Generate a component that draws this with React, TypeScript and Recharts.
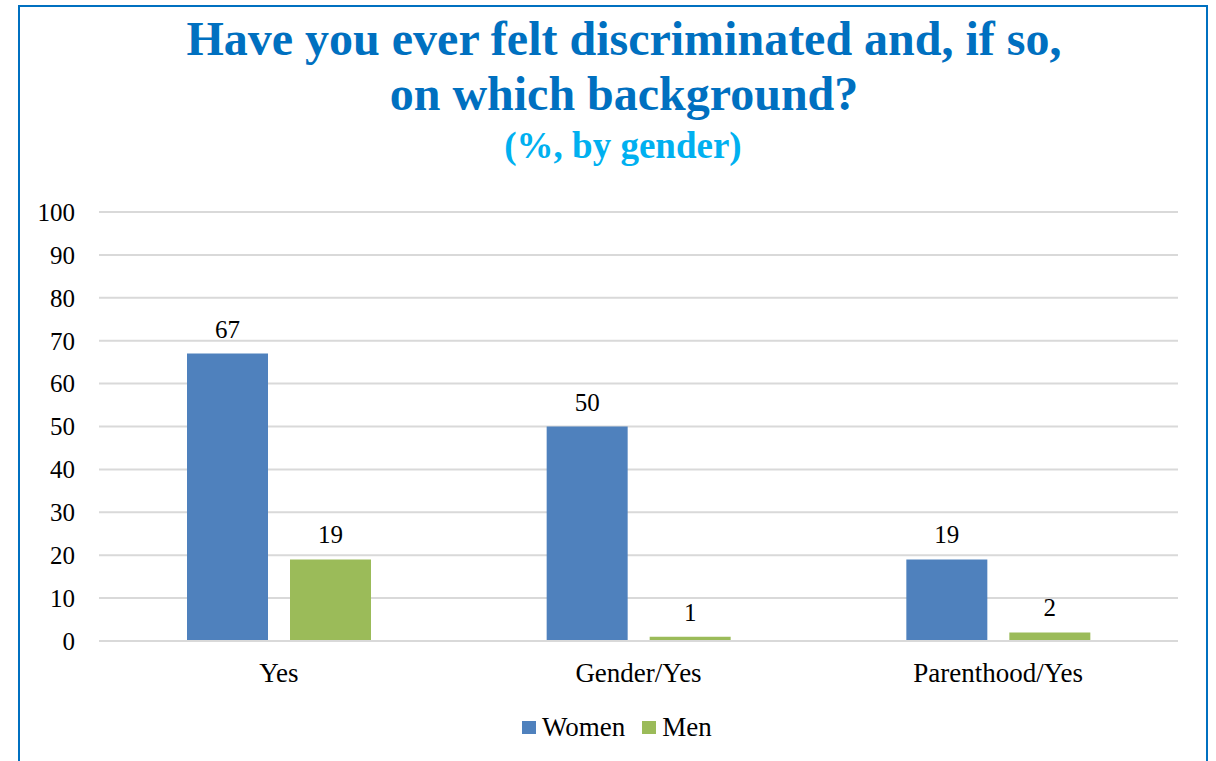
import { BarChart, Bar, XAxis, YAxis, CartesianGrid, LabelList } from 'recharts'

const categories = ['Yes', 'Gender/Yes', 'Parenthood/Yes']
const women = [67, 50, 19]
const men = [19, 1, 2]
const yTicks = [0, 10, 20, 30, 40, 50, 60, 70, 80, 90, 100]

const data = categories.map((name, i) => ({ name, Women: women[i], Men: men[i] }))

const font = '"Liberation Serif", "Times New Roman", serif'

export default function App() {
   return (
      <div style={ { position: 'absolute', left: 0, top: 0, width: 1216, height: 761, overflow: 'hidden', background: '#fff' } }>
         <div style={ { position: 'absolute', left: 18, top: 5, width: 1186, height: 800, border: '2px solid #0070C0' } } />
         <div style={ { position: 'absolute', left: 0, top: 11, width: 1248, textAlign: 'center', fontFamily: font, fontWeight: 'bold', fontSize: 48, lineHeight: '55px', color: '#0070C0' } }>
            Have you ever felt discriminated and, if so,<br />on which background?
         </div>
         <div style={ { position: 'absolute', left: 0, top: 124, width: 1246, textAlign: 'center', fontFamily: font, fontWeight: 'bold', fontSize: 37, lineHeight: '44px', color: '#00B0F0' } }>
            (%, by gender)
         </div>
         <div style={ { position: 'absolute', left: 0, top: 0 } }>
            <BarChart width={ 1216 } height={ 761 } data={ data } barSize={ 81 } barGap={ 22 }
               margin={ { top: 212, right: 38, bottom: 90, left: 0 } }>
               <CartesianGrid vertical={ false } stroke="#D9D9D9" strokeWidth={ 2 } />
               <XAxis dataKey="name" height={ 30 } axisLine={ { stroke: '#D9D9D9', strokeWidth: 2 } } tickLine={ false } tickSize={ 0 } tickMargin={ 22 }
                  tick={ { fontFamily: font, fontSize: 27, fill: '#000' } } />
               <YAxis domain={ [0, 100] } ticks={ yTicks } width={ 99 } axisLine={ false } tickLine={ false } tickSize={ 0 } tickMargin={ 24 }
                  tick={ { fontFamily: font, fontSize: 25, fill: '#000' } } />
               <Bar dataKey="Women" fill="#4F81BD" isAnimationActive={ false }>
                  <LabelList dataKey="Women" position="top" offset={ 16 } style={ { fontFamily: font, fontSize: 25, fill: '#000' } } />
               </Bar>
               <Bar dataKey="Men" fill="#9BBB59" isAnimationActive={ false }>
                  <LabelList dataKey="Men" position="top" offset={ 16 } style={ { fontFamily: font, fontSize: 25, fill: '#000' } } />
               </Bar>
            </BarChart>
         </div>
         <div style={ { position: 'absolute', left: 522, top: 712, display: 'flex', alignItems: 'center', fontFamily: font, fontSize: 27, lineHeight: '30px', color: '#000' } }>
            <span style={ { display: 'inline-block', width: 14, height: 13, background: '#4F81BD', marginRight: 6 } } />
            <span style={ { marginRight: 17 } }>Women</span>
            <span style={ { display: 'inline-block', width: 14, height: 13, background: '#9BBB59', marginRight: 6 } } />
            <span>Men</span>
         </div>
      </div>
   )
}
